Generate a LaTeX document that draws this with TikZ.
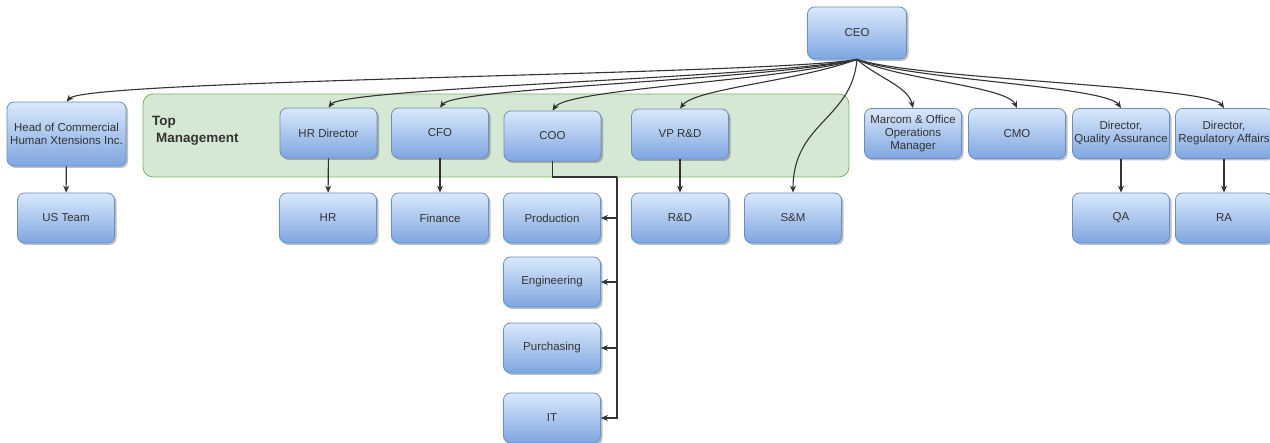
\documentclass[tikz,border=0pt]{standalone}
\usepackage{fontspec}
\setmainfont{Liberation Sans}
\usetikzlibrary{shadows,arrows.meta}
\definecolor{boxtop}{HTML}{DAE8FC}
\definecolor{boxbot}{HTML}{7EA6E0}
\definecolor{boxline}{HTML}{6C8EBF}
\definecolor{grpfill}{HTML}{D5E8D4}
\definecolor{grpline}{HTML}{82B366}
\definecolor{ink}{HTML}{333333}
\begin{document}
\begin{tikzpicture}[x=1pt,y=-1pt,
  role/.style={draw=boxline, line width=0.8pt, rounded corners=7pt,
    top color=boxtop, bottom color=boxbot,
    minimum width=97pt, minimum height=50pt, align=center, text=ink,
    font=\fontsize{11.5}{13}\selectfont, inner sep=1pt,
    drop shadow={shadow xshift=2pt, shadow yshift=-2pt, opacity=0.25, fill=black}},
  group/.style={draw=grpline, fill=grpfill, line width=0.8pt, rounded corners=10pt},
  link/.style={draw=ink, line width=1.1pt, -{Stealth[length=7pt,width=6pt]}},
  wire/.style={draw=ink, line width=1.1pt}]

\useasboundingbox (0,0) rectangle (1270,443);

% management band
\node[group, minimum width=706pt, minimum height=83pt] (band) at (496,135.5) {};
\node[anchor=north west, inner sep=0pt, align=left, text=ink,
      font=\bfseries\fontsize{13.5}{17}\selectfont] (bandlbl) at (152,116)
      {Top\\\hspace{4pt}Management};

% boxes
\node[role, minimum width=99pt, minimum height=52pt] (ceo) at (857,33) {CEO};
\node[role, minimum width=119pt, minimum height=64pt] (head) at (66.5,134) {Head of Commercial\\Human Xtensions Inc.};
\node[role] (us) at (66,218) {US Team};

\node[role] (hrdir) at (328.5,133) {HR Director};
\node[role] (cfo) at (440,133) {CFO};
\node[role] (coo) at (552.5,136) {COO};
\node[role] (vprd) at (680,134) {VP R\&D};

\node[role] (hr) at (328,218) {HR};
\node[role] (fin) at (440,218) {Finance};
\node[role] (prod) at (552,218) {Production};
\node[role] (eng) at (552,282) {Engineering};
\node[role] (purch) at (552,348) {Purchasing};
\node[role] (it) at (552,418) {IT};
\node[role] (rd) at (680,218) {R\&D};
\node[role] (sm) at (793,218) {S\&M};

\node[role] (marcom) at (913,133.5) {Marcom \& Office\\Operations\\Manager};
\node[role] (cmo) at (1017,133.5) {CMO};
\node[role] (dqa) at (1121,133.5) {Director,\\Quality Assurance};
\node[role] (dra) at (1224,133.5) {Director,\\Regulatory Affairs};
\node[role] (qa) at (1121,218) {QA};
\node[role] (ra) at (1224,218) {RA};

% reporting lines from the CEO
\draw[link] (ceo.south) .. controls +(-80,15) and +(20,-22) .. (head.north);
\draw[link] (ceo.south) .. controls +(-80,18) and +(15,-20) .. (hrdir.north);
\draw[link] (ceo.south) .. controls +(-80,20) and +(15,-20) .. (cfo.north);
\draw[link] (ceo.south) .. controls +(-70,21) and +(15,-22) .. (coo.north);
\draw[link] (ceo.south) .. controls +(-60,22) and +(15,-20) .. (vprd.north);
\draw[link] (ceo.south) .. controls +(-5,60) and +(0,-70) .. (sm.north);
\draw[link] (ceo.south) .. controls +(20,18) and +(-5,-22) .. (marcom.north);
\draw[link] (ceo.south) .. controls +(40,20) and +(-10,-22) .. (cmo.north);
\draw[link] (ceo.south) .. controls +(50,20) and +(-15,-22) .. (dqa.north);
\draw[link] (ceo.south) .. controls +(60,20) and +(-15,-22) .. (dra.north);

% direct reports below each manager
\draw[link] (head) -- (us);
\draw[link] (hrdir) -- (hr);
\draw[link] (cfo) -- (fin);
\draw[link] (vprd) -- (rd);
\draw[link] (dqa) -- (qa);
\draw[link] (dra) -- (ra);

% COO bus
\coordinate (bus) at (617,177);
\draw[wire] (coo.south) |- (bus);
\draw[link] (bus) |- (prod.east);
\draw[link] (bus) |- (eng.east);
\draw[link] (bus) |- (purch.east);
\draw[link] (bus) |- (it.east);
\end{tikzpicture}
\end{document}
